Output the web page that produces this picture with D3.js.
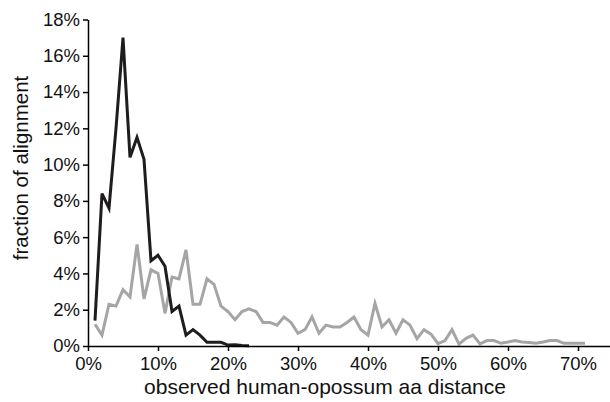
<!DOCTYPE html>
<meta charset="utf-8">
<script src="https://cdn.jsdelivr.net/npm/d3@7/dist/d3.min.js"></script>
<style>
body { margin: 0; background: #fff; }
svg text { font-family: "Liberation Sans", Arial, sans-serif; fill: #111; }
.line { fill: none; stroke-width: 3px; stroke-linejoin: miter; }
</style>
<body>
<script>
// distance bins (fraction), one per 1%
var darkDist = d3.range(1, 24).map(function(k) { return k / 100; });
var darkFrac = [1.4, 8.4, 7.6, 12.0, 17.0, 10.4, 11.5, 10.3, 4.7, 5.0, 4.4, 1.9, 2.2,
                0.6, 0.9, 0.6, 0.2, 0.2, 0.2, 0.05, 0.07, 0.03, 0.02];

var grayDist = d3.range(1, 72).map(function(k) { return k / 100; });
var grayFrac = [1.2, 0.6, 2.3, 2.2, 3.1, 2.7, 5.6, 2.6, 4.2, 4.0,
                1.8, 3.8, 3.7, 5.3, 2.3, 2.3, 3.7, 3.4, 2.2, 1.9,
                1.45, 1.9, 2.05, 1.9, 1.3, 1.3, 1.15, 1.6, 1.3, 0.7,
                0.9, 1.6, 0.7, 1.15, 1.05, 1.05, 1.3, 1.6, 0.9, 0.6,
                2.35, 1.05, 1.45, 0.7, 1.45, 1.15, 0.4, 0.9, 0.65, 0.13,
                0.3, 0.9, 0.1, 0.42, 0.6, 0.12, 0.3, 0.3, 0.15, 0.22,
                0.3, 0.22, 0.19, 0.15, 0.22, 0.3, 0.3, 0.15, 0.15, 0.15, 0.15];

var xTicks = [0, 0.1, 0.2, 0.3, 0.4, 0.5, 0.6, 0.7];
var yTicks = [0, 0.02, 0.04, 0.06, 0.08, 0.10, 0.12, 0.14, 0.16, 0.18];

var width = 610, height = 402;
var x = d3.scaleLinear().domain([0, 0.745]).range([88, 609.5]);
var y = d3.scaleLinear().domain([0, 0.18]).range([346, 19.5]);

var svg = d3.select("body").append("svg")
    .attr("width", width)
    .attr("height", height);

var line = d3.line()
    .x(function(d) { return x(d[0]); })
    .y(function(d) { return y(d[1] / 100); });

svg.append("path")
    .datum(d3.zip(grayDist, grayFrac))
    .attr("class", "line")
    .style("stroke", "#a5a5a5")
    .attr("d", line);

svg.append("path")
    .datum(d3.zip(darkDist, darkFrac))
    .attr("class", "line")
    .style("stroke", "#1e1c1d")
    .attr("d", line);

// x axis
var xAxis = svg.append("g")
    .attr("transform", "translate(0," + y(0) + ")")
    .call(d3.axisBottom(x).tickValues(xTicks).tickSizeInner(5).tickSizeOuter(0)
      .tickFormat(d3.format(".0%")));
xAxis.selectAll("text").style("font-size", "18.5px").attr("dy", "0.95em").attr("y", 6);

// y axis
var yAxis = svg.append("g")
    .attr("transform", "translate(" + x(0) + ",0)")
    .call(d3.axisLeft(y).tickValues(yTicks).tickSizeInner(5).tickSizeOuter(0)
      .tickFormat(d3.format(".0%")));
yAxis.selectAll("text").style("font-size", "18.5px").attr("x", -8);

svg.selectAll(".domain, .tick line").style("stroke", "#000").style("stroke-width", "1.5px");

svg.append("text")
    .attr("x", 325)
    .attr("y", 394)
    .attr("text-anchor", "middle")
    .style("font-size", "21px")
    .text("observed human-opossum aa distance");

svg.append("text")
    .attr("transform", "translate(28,168) rotate(-90)")
    .attr("text-anchor", "middle")
    .style("font-size", "20.5px")
    .text("fraction of alignment");
</script>
</body>
